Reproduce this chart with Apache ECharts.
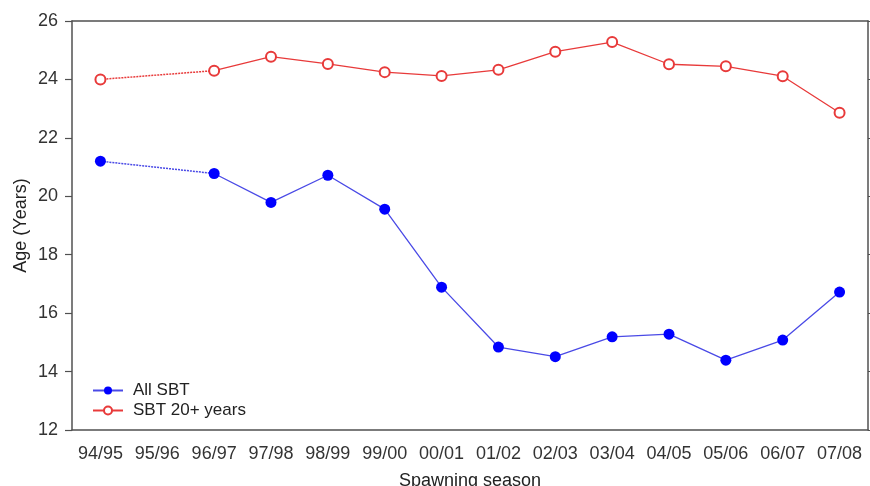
<!DOCTYPE html>
<html>
<head>
<meta charset="utf-8">
<script src="https://cdn.jsdelivr.net/npm/echarts@6/dist/echarts.min.js"></script>
<style>html,body{margin:0;padding:0;background:#fff}#c{width:870px;height:486px}</style>
</head>
<body>
<div id="c"></div>
<script>
var categories = ['94/95','95/96','96/97','97/98','98/99','99/00','00/01','01/02','02/03','03/04','04/05','05/06','06/07','07/08'];
var allSBT = [21.2, null, 20.78, 19.79, 20.72, 19.56, 16.89, 14.84, 14.51, 15.19, 15.28, 14.39, 15.08, 16.72];
var sbt20 = [24.0, null, 24.3, 24.78, 24.53, 24.25, 24.12, 24.33, 24.95, 25.28, 24.52, 24.45, 24.11, 22.86];
var yTicks = [12, 14, 16, 18, 20, 22, 24, 26];

function gapOnly(arr) {
  return arr.map(function (v, i) { return i <= 2 ? v : null; });
}

var font = 'Liberation Sans, Arial, sans-serif';
var axisCol = '#505050';
var chart = echarts.init(document.getElementById('c'));
chart.setOption({
  animation: false,
  grid: { left: 72, right: 2, top: 21, bottom: 56, containLabel: false, outerBoundsMode: 'none' },
  legend: {
    orient: 'vertical', left: 87, top: 377, itemGap: 3,
    itemWidth: 30, itemHeight: 10,
    textStyle: { fontFamily: font, fontSize: 17, color: '#222', padding: [0, 0, 0, 5] },
    data: ['All SBT', 'SBT 20+ years']
  },
  xAxis: [{
    type: 'category', data: categories, boundaryGap: true,
    name: 'Spawning season', nameLocation: 'middle', nameGap: 42,
    nameTextStyle: { fontFamily: font, fontSize: 18, color: '#222' },
    axisLine: { lineStyle: { color: axisCol, width: 1.5 } },
    axisTick: { alignWithLabel: true, length: 7, lineStyle: { color: axisCol, width: 1.2 } },
    axisLabel: { fontFamily: font, fontSize: 18, color: '#333', margin: 15, interval: 0 }
  }, {
    type: 'category', data: categories, boundaryGap: true, position: 'top',
    axisLine: { lineStyle: { color: axisCol, width: 1.5 } },
    axisTick: { alignWithLabel: true, length: 7, lineStyle: { color: axisCol, width: 1.2 } },
    axisLabel: { show: false }
  }],
  yAxis: [{
    type: 'value', min: 12, max: 26, interval: 2,
    name: 'Age (Years)', nameLocation: 'middle', nameGap: 42, nameMoveOverlap: false,
    nameTextStyle: { fontFamily: font, fontSize: 18, color: '#222' },
    axisLine: { show: true, lineStyle: { color: axisCol, width: 1.5 } },
    axisTick: { show: true, length: 7, lineStyle: { color: axisCol, width: 1.2 } },
    axisLabel: { fontFamily: font, fontSize: 18, color: '#333', margin: 14,
      formatter: function (v) { return yTicks.indexOf(v) >= 0 ? String(v) : ''; } },
    splitLine: { show: false }
  }, {
    type: 'value', min: 12, max: 26, interval: 2, position: 'right',
    axisLine: { show: true, lineStyle: { color: axisCol, width: 1.5 } },
    axisTick: { show: true, length: 7, lineStyle: { color: axisCol, width: 1.2 } },
    axisLabel: { show: false },
    splitLine: { show: false }
  }],
  series: [{
    name: 'All SBT', type: 'line', data: allSBT, connectNulls: false,
    symbol: 'circle', symbolSize: 11,
    itemStyle: { color: '#0000ff' },
    lineStyle: { color: '#4a4ae6', width: 1.3 }
  }, {
    name: 'SBT 20+ years', type: 'line', data: sbt20, connectNulls: false,
    symbol: 'emptyCircle', symbolSize: 10,
    itemStyle: { color: '#e83a3a', borderWidth: 1.2 },
    lineStyle: { color: '#e83a3a', width: 1.3 }
  }, {
    name: 'gapBlue', type: 'line', data: gapOnly(allSBT), connectNulls: true,
    showSymbol: false, silent: true, z: 1,
    lineStyle: { color: '#4a4ae6', width: 1.5, type: [2, 1] }
  }, {
    name: 'gapRed', type: 'line', data: gapOnly(sbt20), connectNulls: true,
    showSymbol: false, silent: true, z: 1,
    lineStyle: { color: '#e83a3a', width: 1.5, type: [2, 1] }
  }]
});
</script>
</body>
</html>
